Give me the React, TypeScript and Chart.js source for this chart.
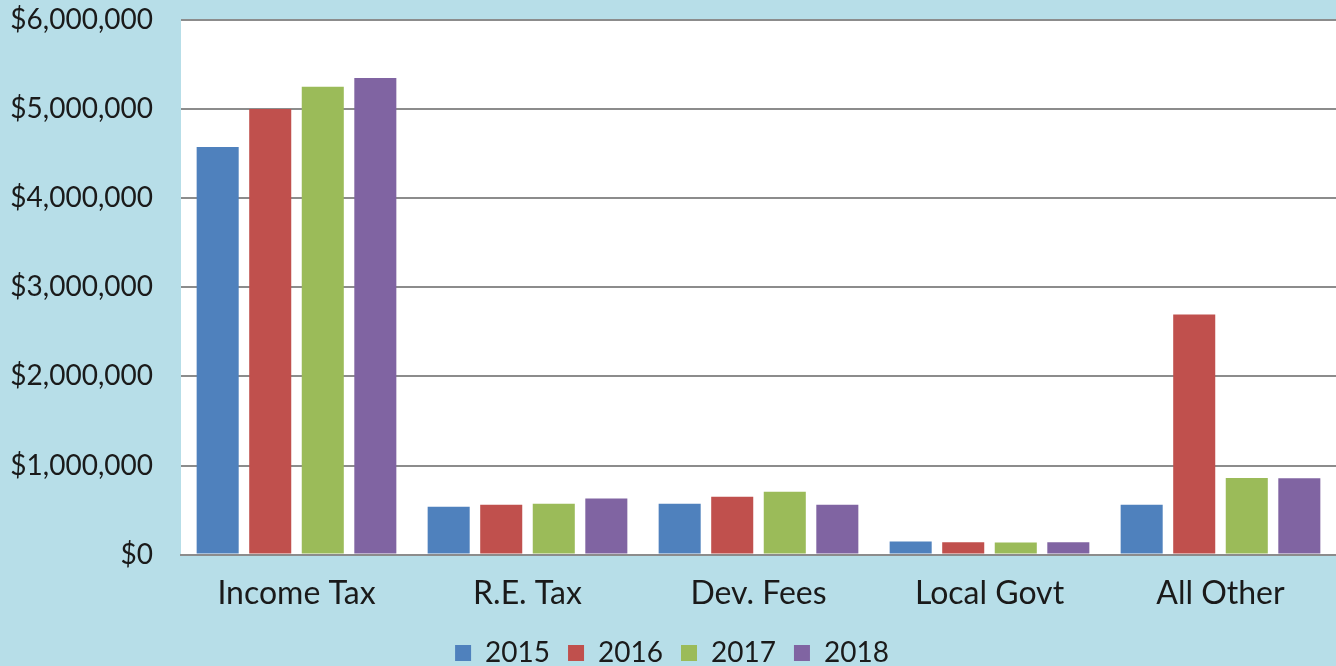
import React, { useEffect, useRef } from "react";
import { Chart, registerables } from "chart.js";

Chart.register(...registerables);

const categories = ["Income Tax", "R.E. Tax", "Dev. Fees", "Local Govt", "All Other"];
const seriesNames = ["2015", "2016", "2017", "2018"];
const values2015 = [4575000, 538000, 570000, 146000, 560000];
const values2016 = [5000000, 560000, 650000, 140000, 2695000];
const values2017 = [5250000, 570000, 705000, 135000, 860000];
const values2018 = [5350000, 630000, 560000, 138000, 856000];
const colors = ["#4f81bd", "#c0504d", "#9bbb59", "#8064a2"];
const yTicks = [0, 1000000, 2000000, 3000000, 4000000, 5000000, 6000000];

const FONT = "Lato";

const plotBg = {
  id: "plotBg",
  beforeDraw(chart: any) {
    const { ctx, chartArea } = chart;
    ctx.save();
    ctx.fillStyle = "#b7dee8";
    ctx.fillRect(0, 0, chart.width, chart.height);
    ctx.fillStyle = "#ffffff";
    ctx.fillRect(chartArea.left, chartArea.top, chartArea.right - chartArea.left, chartArea.bottom - chartArea.top);
    ctx.restore();
  },
};

export default function App() {
  const ref = useRef<HTMLCanvasElement | null>(null);
  useEffect(() => {
    document.body.style.margin = "0";
    const all = [values2015, values2016, values2017, values2018];
    const chart = new Chart(ref.current as HTMLCanvasElement, {
      type: "bar",
      data: {
        labels: categories,
        datasets: seriesNames.map((n, i) => ({
          label: n,
          data: all[i],
          backgroundColor: colors[i],
          borderWidth: 0,
          categoryPercentage: 0.91,
          barPercentage: 0.8,
        })),
      },
      options: {
        animation: false,
        responsive: false,
        maintainAspectRatio: false,
        layout: { padding: { top: 20, right: 0, left: 8, bottom: -11 } },
        plugins: {
          legend: {
            position: "bottom",
            labels: {
              font: { family: FONT, size: 28 },
              color: "#1a1a1a",
              boxWidth: 16,
              boxHeight: 16,
              padding: 18,
            },
          },
          tooltip: { enabled: false },
        },
        scales: {
          x: {
            grid: { display: false, drawTicks: false },
            border: { display: true, color: "#8c8c8c", width: 2 },
            ticks: { font: { family: FONT, size: 32 }, color: "#1a1a1a", padding: 20 },
            afterFit(axis: any) {
              axis.height = axis.height - 12;
            },
          },
          y: {
            min: 0,
            max: 6000000,
            afterBuildTicks(axis: any) {
              axis.ticks = yTicks.map((v) => ({ value: v }));
            },
            grid: { color: "#8c8c8c", lineWidth: 2, drawTicks: false },
            border: { display: false },
            ticks: {
              font: { family: FONT, size: 28 },
              color: "#1a1a1a",
              padding: 28,
              callback: (v: any) => "$" + Number(v).toLocaleString("en-US"),
            },
            afterFit(axis: any) {
              axis.width = 173;
              axis.paddingTop = 0;
            },
          },
        },
      },
      plugins: [plotBg],
    });
    return () => chart.destroy();
  }, []);
  return (
    <div style={{ width: 1336, height: 666 }}>
      <canvas ref={ref} width={1336} height={666} style={{ display: "block" }} />
    </div>
  );
}
